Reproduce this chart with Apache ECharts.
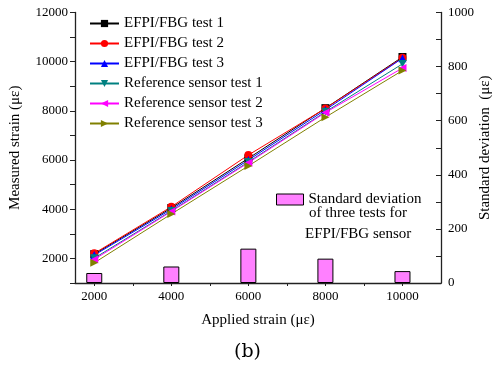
<!DOCTYPE html>
<html lang="en">
<head>
    <meta charset="utf-8">
    <script src="https://cdn.jsdelivr.net/npm/echarts@6/dist/echarts.min.js"></script>
    <title>strain_test</title>
</head>
<body>
<style>
    html, body, #main {
        width: 100%;
        height: 100%;
        margin: 0;
        background: #fff;
    }
</style>
<div id='main'></div>
<script>
    // applied strain points (με)
    var applied = [2000, 4000, 6000, 8000, 10000];

    // measured strain per test
    var efpi1 = [2175, 4050, 6070, 8110, 10190];
    var efpi2 = [2205, 4100, 6205, 8100, 10160];
    var efpi3 = [2135, 3995, 6000, 8040, 10140];
    var ref1 = [2010, 3930, 5920, 7960, 9910];
    var ref2 = [1960, 3910, 5890, 7930, 9740];
    var ref3 = [1820, 3805, 5760, 7740, 9640];

    // standard deviation of EFPI/FBG sensor
    var stdDev = [37, 61, 127, 90, 44];

    var xLabels = [2000, 4000, 6000, 8000, 10000];
    var xTicks = [2000, 3000, 4000, 5000, 6000, 7000, 8000, 9000, 10000];
    var yLabels = [2000, 4000, 6000, 8000, 10000, 12000];
    var yTicks = [1000, 2000, 3000, 4000, 5000, 6000, 7000, 8000, 9000, 10000, 11000, 12000];

    var serif = 'Liberation Serif';
    var plain = function (v) { return String(v); };

    function pairs(ys) {
        return applied.map(function (x, i) { return [x, ys[i]]; });
    }

    function lineSeries(name, ys, color, symbol, rot) {
        return {
            name: name,
            type: 'line',
            data: pairs(ys),
            symbol: symbol,
            symbolSize: 8,
            symbolRotate: rot || 0,
            itemStyle: {color: color},
            lineStyle: {color: color, width: 1},
            z: 3
        };
    }

    var chart = echarts.init(document.getElementById('main'));
    var option = {
        animation: false,
        grid: {left: 75, right: 54, top: 12.5, bottom: 92, outerBoundsMode: 'none', containLabel: false},
        legend: [{
            orient: 'vertical',
            left: 84,
            top: 11,
            itemWidth: 29,
            itemHeight: 9,
            itemGap: 5,
            textStyle: {fontFamily: serif, fontSize: 15, color: '#000'},
            data: ['EFPI/FBG test 1', 'EFPI/FBG test 2', 'EFPI/FBG test 3',
                'Reference sensor test 1', 'Reference sensor test 2', 'Reference sensor test 3']
        }, {
            left: 271,
            top: 187,
            itemWidth: 27,
            itemHeight: 11,
            itemGap: 0,
            icon: 'rect',
            itemStyle: {borderWidth: 1, borderColor: '#000'},
            textStyle: {fontFamily: serif, fontSize: 15, color: '#000'},
            data: ['Standard deviation']
        }],
        graphic: [
            {type: 'text', left: 309, top: 206, style: {text: 'of three tests for', font: '15px "Liberation Serif"', fill: '#000'}},
            {type: 'text', left: 305, top: 227, style: {text: 'EFPI/FBG sensor', font: '15px "Liberation Serif"', fill: '#000'}},
            {type: 'text', left: 'center', top: 343, style: {text: '(b)', font: '19px "DejaVu Serif"', fill: '#000'}}
        ],
        xAxis: {
            type: 'value',
            min: 1500,
            max: 11000,
            name: 'Applied strain (με)',
            nameLocation: 'middle',
            nameGap: 30,
            nameMoveOverlap: false,
            nameTextStyle: {fontFamily: serif, fontSize: 15, color: '#000'},
            axisLine: {lineStyle: {color: '#222', width: 1.3}},
            axisTick: {show: true, length: 3, customValues: xTicks, lineStyle: {color: '#222'}},
            axisLabel: {customValues: xLabels, formatter: plain, fontFamily: serif, fontSize: 13, color: '#000', margin: 7},
            splitLine: {show: false}
        },
        yAxis: [{
            type: 'value',
            min: 1000,
            max: 12000,
            name: 'Measured strain (με)',
            nameLocation: 'middle',
            nameGap: 52,
            nameMoveOverlap: false,
            nameTextStyle: {fontFamily: serif, fontSize: 15, color: '#000'},
            axisLine: {show: true, lineStyle: {color: '#222', width: 1.3}},
            axisTick: {show: true, length: 5, customValues: yTicks, lineStyle: {color: '#222'}},
            axisLabel: {customValues: yLabels, formatter: plain, fontFamily: serif, fontSize: 13, color: '#000', margin: 7},
            splitLine: {show: false}
        }, {
            type: 'value',
            min: 0,
            max: 1000,
            interval: 200,
            position: 'right',
            name: 'Standard deviation  (με)',
            nameLocation: 'middle',
            nameGap: 37,
            nameMoveOverlap: false,
            nameTextStyle: {fontFamily: serif, fontSize: 15, color: '#000'},
            axisLine: {show: true, lineStyle: {color: '#222', width: 1.3}},
            axisTick: {show: true, inside: true, length: 5, lineStyle: {color: '#222'}},
            minorTick: {show: true, splitNumber: 2, length: 5, lineStyle: {color: '#222'}},
            axisLabel: {formatter: plain, fontFamily: serif, fontSize: 13, color: '#000', margin: 7},
            splitLine: {show: false}
        }],
        series: [
            {
                name: 'Standard deviation',
                type: 'bar',
                yAxisIndex: 1,
                data: pairs(stdDev),
                barWidth: 16,
                itemStyle: {color: '#ff80ff', borderColor: '#000', borderWidth: 1},
                z: 2
            },
            lineSeries('EFPI/FBG test 1', efpi1, '#000000', 'rect'),
            lineSeries('EFPI/FBG test 2', efpi2, '#ff0000', 'circle'),
            lineSeries('EFPI/FBG test 3', efpi3, '#0000ff', 'triangle'),
            lineSeries('Reference sensor test 1', ref1, '#008080', 'triangle', 180),
            lineSeries('Reference sensor test 2', ref2, '#ff00ff', 'triangle', 90),
            lineSeries('Reference sensor test 3', ref3, '#808000', 'triangle', -90)
        ]
    };
    chart.setOption(option);

    window.onresize = chart.resize;
</script>
</body>
</html>
